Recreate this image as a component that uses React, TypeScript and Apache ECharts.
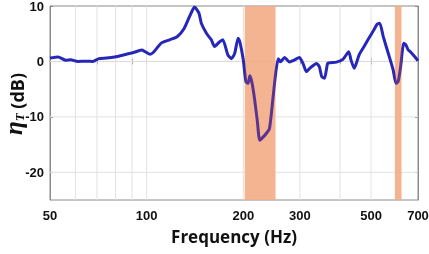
import { useEffect, useRef } from "react";
import * as echarts from "echarts";

const freqs = [
  50, 53, 56, 58, 61, 65, 68, 71, 75, 79.5, 86.5, 91, 96.5, 99, 102.5, 105, 111, 118, 124.7, 131, 136,
  141, 145.5, 148, 153.5, 159, 162.7, 168.5, 172.6, 179, 183.6, 188, 192.7, 195, 200, 203.8, 207, 209.7,
  213, 217, 221, 225, 230, 235.7, 241.3, 247, 252.6, 257, 261, 269, 278.8, 289, 299, 306.8, 314.7, 322,
  338, 345, 351, 358, 366, 373, 390, 408.5, 426, 433, 443, 459, 475, 492, 509.8, 522, 532, 545.7, 565.5,
  585.9, 597.5, 607, 618, 632, 642, 652.6, 662.5, 685, 700,
];
const etaT = [
  0.6, 0.8, 0.2, 0.3, 0.0, 0.05, 0.0, 0.5, 0.6, 0.8, 1.3, 1.6, 2.05, 1.75, 1.3, 1.65, 3.3, 3.9, 4.5, 6.0, 8.1,
  9.8, 8.7, 6.9, 5.1, 3.9, 2.7, 3.5, 3.9, 1.2, 0.5, 1.45, 4.2, 3.6, 0.24, -3.66, -3.95, -2.6,
  -3.95, -6.96, -10.6, -14.2, -13.7, -13.0, -12.1, -7.0, -1.85, 0.5, -0.07, 0.7, -0.1, 0.3, 0.7, -0.36, -1.85, -1.24,
  -0.36, -0.96, -2.76, -3.05, -0.36, -0.24, -0.12, 0.36, 1.75, 0.24, -1.24, 1.2, 2.66, 4.17, 5.67, 6.7, 6.9, 4.47, 1.47,
  -1.55, -3.95, -3.66, -0.96, 3.3, 2.96, 2.06, 1.75, 0.8, 0.1,
];
const xTickLabels = [50, 100, 200, 300, 500, 700];
const xTickMarks = [60, 70, 80, 90, 100, 200, 300, 400, 500, 600, 700];
const xGridValues = [60, 70, 80, 90, 100, 200, 300, 400, 500, 600];
const yTickLabels = [-20, -10, 0, 10];
const yGridValues = [-20, -10, 0];
const bands = [
  [202, 252],
  [593, 622],
];
const X_MIN = 50;
const X_MAX = 700;
const Y_MIN = -25;
const Y_MAX = 10;

const lg = (v: number) => Math.log10(v);
const BLUE = "#2626b8";
const PURPLE = "#5a3590";
const BOX = "#8a8a8a";
const GRID = "#e2e2e2";

export default function App() {
  const ref = useRef<HTMLDivElement>(null);
  useEffect(() => {
    if (!ref.current) return;
    const chart = echarts.init(ref.current, undefined, { renderer: "svg" });
    const labelFont = { fontFamily: "Liberation Sans", fontWeight: "bold" as const, fontSize: 13, color: "#111" };
    const pieces: any[] = [];
    let prev: number | null = null;
    bands.forEach(([a, b]) => {
      if (prev === null) pieces.push({ lt: lg(a), color: BLUE });
      else pieces.push({ gt: prev, lt: lg(a), color: BLUE });
      pieces.push({ gte: lg(a), lte: lg(b), color: PURPLE });
      prev = lg(b);
    });
    pieces.push({ gt: prev, color: BLUE });

    chart.setOption({
      animation: false,
      grid: {
        left: 50, right: 11, top: 6, bottom: 54,
        show: true, borderColor: BOX, borderWidth: 1, backgroundColor: "transparent",
        containLabel: false, outerBoundsMode: "none",
      },
      graphic: [
        {
          type: "text",
          x: 15,
          y: 104,
          rotation: Math.PI / 2,
          silent: true,
          style: {
            text: "{eta|η}{sub|T}{b| (dB)}",
            align: "center",
            verticalAlign: "middle",
            rich: {
              eta: { fontFamily: "Liberation Serif", fontStyle: "italic", fontWeight: "bold", fontSize: 25, fill: "#111", verticalAlign: "bottom", lineHeight: 22 },
              sub: { fontFamily: "Liberation Serif", fontStyle: "italic", fontWeight: "bold", fontSize: 13, fill: "#111", verticalAlign: "bottom", lineHeight: 22 },
              b: { fontFamily: "Open Sans", fontWeight: "bold", fontSize: 18, fill: "#111", verticalAlign: "bottom", lineHeight: 22 },
            },
          },
        },
      ],
      xAxis: [
        {
          type: "value",
          min: lg(X_MIN),
          max: lg(X_MAX),
          splitLine: { show: false },
          axisLine: { show: true, lineStyle: { color: BOX } },
          axisTick: { show: true, inside: true, length: 3, customValues: xTickMarks.map(lg), lineStyle: { color: BOX } },
          axisLabel: {
            ...labelFont,
            margin: 9,
            customValues: xTickLabels.map(lg),
            formatter: (v: number) => String(Math.round(Math.pow(10, v))),
          },
          name: "Frequency (Hz)",
          nameLocation: "middle",
          nameGap: 28,
          nameTextStyle: { fontFamily: "Open Sans", fontWeight: "bold", fontSize: 17, color: "#111" },
        },
        {
          type: "value",
          position: "top",
          min: lg(X_MIN),
          max: lg(X_MAX),
          splitLine: { show: false },
          axisLine: { show: true, lineStyle: { color: BOX } },
          axisTick: { show: true, inside: true, length: 3, customValues: xTickMarks.map(lg), lineStyle: { color: BOX } },
          axisLabel: { show: false },
        },
      ],
      yAxis: [
        {
          type: "value",
          min: Y_MIN,
          max: Y_MAX,
          splitLine: { show: false },
          axisLine: { show: true, lineStyle: { color: BOX } },
          axisTick: { show: true, inside: true, length: 3, customValues: yTickLabels, lineStyle: { color: BOX } },
          axisLabel: { ...labelFont, margin: 6, customValues: yTickLabels },
        },
        {
          type: "value",
          position: "right",
          min: Y_MIN,
          max: Y_MAX,
          splitLine: { show: false },
          axisLine: { show: true, lineStyle: { color: BOX } },
          axisTick: { show: true, inside: true, length: 3, customValues: yTickLabels, lineStyle: { color: BOX } },
          axisLabel: { show: false },
        },
      ],
      visualMap: {
        show: false,
        type: "piecewise",
        dimension: 0,
        seriesIndex: 3,
        pieces,
      },
      series: [
        {
          type: "custom",
          z: 1,
          silent: true,
          data: xGridValues.map((v) => [lg(v), 0]),
          encode: { x: 0, y: 1 },
          renderItem: (_p: any, api: any) => {
            const x = api.value(0);
            const a = api.coord([x, Y_MIN]);
            const b = api.coord([x, Y_MAX]);
            return { type: "line", shape: { x1: a[0], y1: a[1], x2: b[0], y2: b[1] }, style: { stroke: GRID, lineWidth: 1 } };
          },
        },
        {
          type: "custom",
          z: 1,
          silent: true,
          data: yGridValues.map((v) => [lg(X_MIN), v]),
          encode: { x: 0, y: 1 },
          renderItem: (_p: any, api: any) => {
            const y = api.value(1);
            const a = api.coord([lg(X_MIN), y]);
            const b = api.coord([lg(X_MAX), y]);
            return { type: "line", shape: { x1: a[0], y1: a[1], x2: b[0], y2: b[1] }, style: { stroke: GRID, lineWidth: 1 } };
          },
        },
        {
          type: "custom",
          z: 2,
          silent: true,
          data: bands.map(([a, b]) => [lg(a), lg(b)]),
          encode: { x: [0, 1] },
          renderItem: (_p: any, api: any) => {
            const p1 = api.coord([api.value(0), Y_MAX]);
            const p2 = api.coord([api.value(1), Y_MIN]);
            return {
              type: "rect",
              shape: { x: p1[0], y: p1[1], width: p2[0] - p1[0], height: p2[1] - p1[1] },
              style: { fill: "#f3ac88", opacity: 0.92 },
            };
          },
        },
        {
          type: "line",
          z: 3,
          data: freqs.map((f, i) => [lg(f), etaT[i]]),
          showSymbol: false,
          symbol: "none",
          smooth: 0.2,
          lineStyle: { width: 3 },
        },
      ],
    });
    return () => chart.dispose();
  }, []);
  return <div ref={ref} style={{ position: "fixed", left: 0, top: 0, width: 429, height: 254 }} />;
}
